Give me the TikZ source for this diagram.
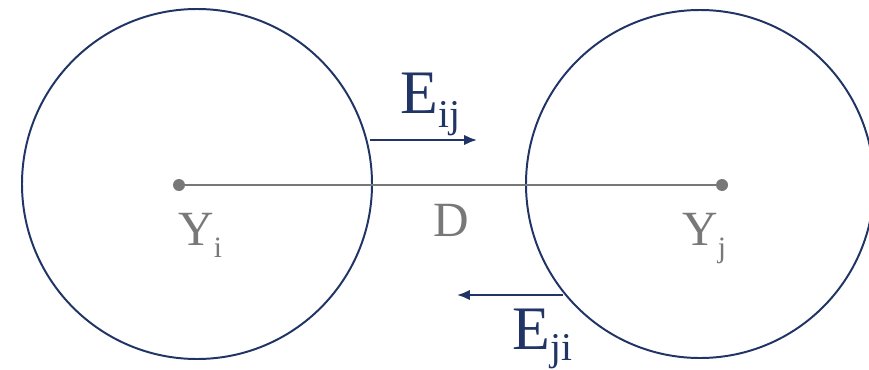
\documentclass[tikz,border=0pt]{standalone}
\usepackage{fontspec}
\setmainfont{Liberation Serif}
\usetikzlibrary{arrows.meta}
\definecolor{navy}{RGB}{32,52,102}
\definecolor{xam}{RGB}{120,120,120}
\newcommand{\subtxt}[3]{\raisebox{-#2}{\fontsize{#1}{#1}\selectfont #3}}
\tikzset{
  vien/.style={draw=navy, line width=1.4pt},
  dot/.style={circle, fill=xam, inner sep=0pt, minimum size=0.3cm},
  mui/.style={navy, line width=1.5pt, -{Latex[length=0.32cm,width=0.26cm]}},
  nhan/.style={inner sep=0pt, anchor=base west}
}
\begin{document}
\begin{tikzpicture}
    \useasboundingbox (0,0) rectangle (21.725,9.225);
    % Vẽ hai đường tròn
    \draw[vien] (4.925,4.625) circle (4.375);
    \draw[vien] (17.5,4.625) circle (4.35);

    % Hai tâm và đoạn D
    \node[dot] (yi) at (4.475,4.6) {};
    \node[dot] (yj) at (18.05,4.6) {};
    \draw[xam, line width=1.3pt] (yi.center) -- (yj.center);

    % Hai mũi tên
    \coordinate (a1) at (9.25,5.725);
    \coordinate (a2) at (11.925,5.725);
    \draw[mui] (a1) -- (a2);
    \coordinate (b1) at (14.075,1.85);
    \coordinate (b2) at (11.425,1.85);
    \draw[mui] (b1) -- (b2);

    % Ghi chú
    \node[nhan, navy, font=\fontsize{44}{44}\selectfont] (eij) at (10.0,6.4) {E\subtxt{28pt}{10pt}{ij}};
    \node[nhan, navy, font=\fontsize{44}{44}\selectfont] (eji) at (12.8,0.5) {E\subtxt{28pt}{8pt}{ji}};
    \node[nhan, xam, font=\fontsize{35}{35}\selectfont] (li) at (4.45,3.1) {Y\subtxt{21pt}{9pt}{i}};
    \node[nhan, xam, font=\fontsize{35}{35}\selectfont] (lj) at (17.05,3.1) {Y\subtxt{21pt}{9pt}{j}};
    \node[nhan, xam, font=\fontsize{35}{35}\selectfont] (ld) at (10.825,3.325) {D};
\end{tikzpicture}
\end{document}
